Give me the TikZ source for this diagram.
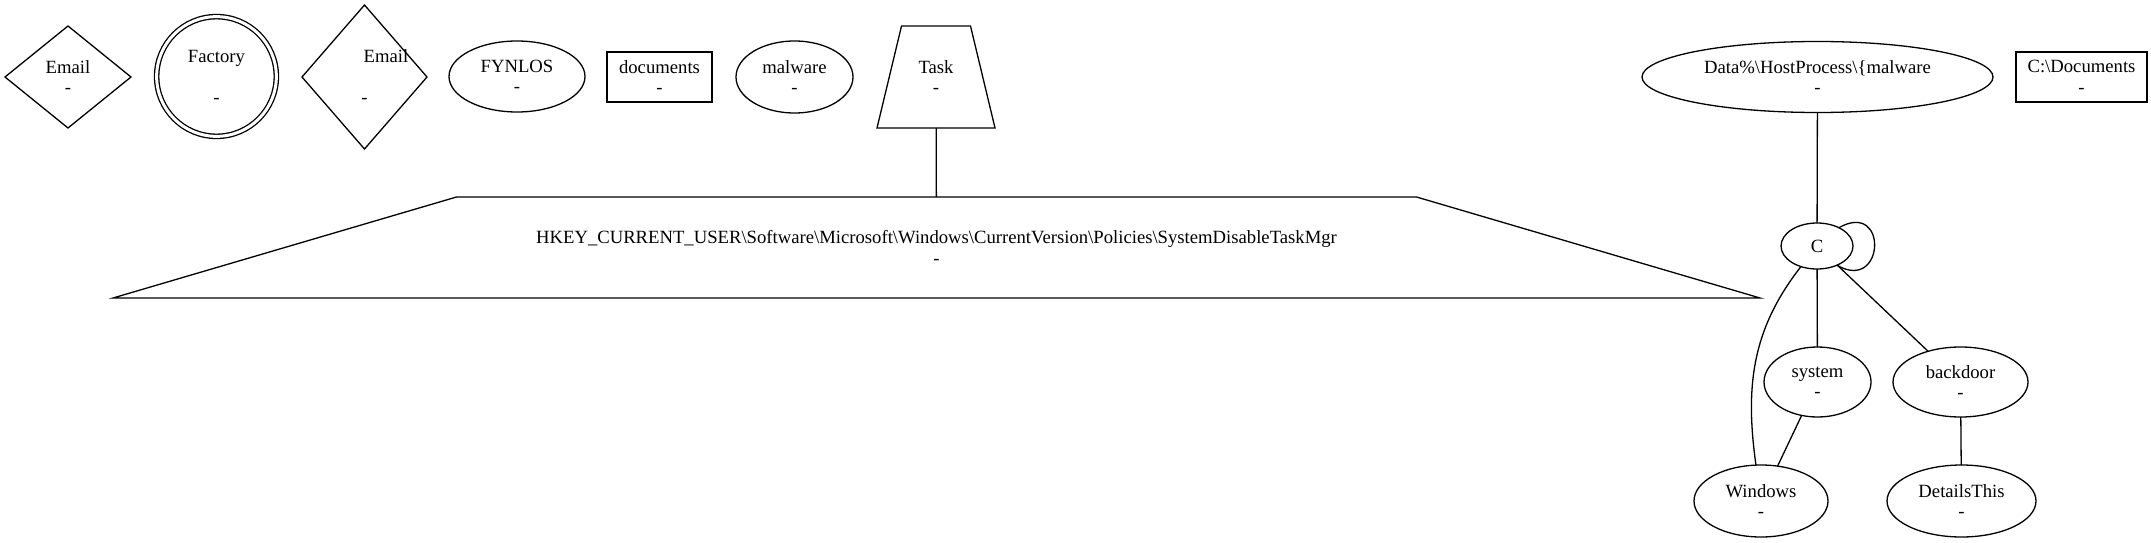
\documentclass[tikz,border=0pt]{standalone}
\usepackage{fontspec}
\setmainfont{Liberation Serif}
\usepackage{tikz}
\usetikzlibrary{shapes.geometric}
\newcommand{\gvfont}{\fontsize{18.67}{20.5}\selectfont}
\newcommand{\bsl}{\textbackslash}

\begin{document}
\begin{tikzpicture}[x=1pt, y=-1pt,
    gnode/.style={draw, line width=1.3pt, inner sep=0pt, outer sep=0pt, align=center, font=\gvfont},
    gtext/.style={inner sep=0pt, outer sep=0pt, align=center, font=\gvfont},
    oval/.style={gnode, ellipse},
    dia/.style={gnode, diamond},
    boxnode/.style={gnode, rectangle},
    link/.style={line width=1.3pt}]
    \useasboundingbox (0,0) rectangle (2151,543);

    % Top row
    \node[dia, minimum width=126pt, minimum height=102pt] (email1) at (68,77) {Email\\-};
    \node[gnode, circle, double, double distance=3pt, minimum size=119.7pt] (factory) at (216.5,76.5) {Factory\\~\\-};
    \node[dia, minimum width=125pt, minimum height=144pt] (email2) at (364.5,77) {};
    \node[gtext] (email2lbl) at (email2.center) {\hspace*{43pt}Email\\~\\-};
    \node[oval, minimum width=136pt, minimum height=71pt] (fynlos) at (517,76.5) {FYNLOS\\-};
    \node[boxnode, minimum width=105pt, minimum height=50pt] (documents) at (659.5,77) {documents\\-};
    \node[oval, minimum width=117pt, minimum height=72pt] (malware) at (794.5,77) {malware\\-};
    \node[gtext, minimum width=118pt, minimum height=102pt] (task) at (936,77) {Task\\-};
    \draw[link] (task.south west) -- ([xshift=24.5pt]task.north west)
        -- ([xshift=-24.5pt]task.north east) -- (task.south east) -- cycle;
    \node[oval, minimum width=351pt, minimum height=71pt] (hostproc) at (1817.5,77)
        {Data\%\bsl HostProcess\bsl\{malware\\-};
    \node[boxnode, minimum width=131pt, minimum height=50pt] (cdocs) at (2081.5,77) {C:\bsl Documents\\-};

    % Registry key
    \node[gtext, minimum width=1647pt, minimum height=101pt] (hkey) at (936.5,247.5)
        {HKEY\_CURRENT\_USER\bsl Software\bsl Microsoft\bsl Windows\bsl CurrentVersion\bsl Policies\bsl SystemDisableTaskMgr\\-};
    \draw[link] (hkey.south west) -- ([xshift=343.5pt]hkey.north west)
        -- ([xshift=-343.5pt]hkey.north east) -- (hkey.south east) -- cycle;

    % Tree under C
    \node[oval, minimum width=72pt, minimum height=46pt] (c) at (1817,246) {C};
    \node[oval, minimum width=107pt, minimum height=70pt] (system) at (1817.5,382) {system\\-};
    \node[oval, minimum width=135pt, minimum height=70pt] (backdoor) at (1960.5,382) {backdoor\\-};
    \node[oval, minimum width=134pt, minimum height=72pt] (windows) at (1761,501) {Windows\\-};
    \node[oval, minimum width=149pt, minimum height=72pt] (details) at (1961.5,501) {DetailsThis\\-};

    % Links
    \draw[link] (task) -- (hkey);
    \draw[link] (hostproc) -- (c);
    \draw[link] (c.40) .. controls +(50,-28) and +(48,28) .. (c.-44);
    \draw[link] (c) -- (system);
    \draw[link] (c) -- (backdoor);
    \draw[link] (c) to[out=-128, in=98] (windows);
    \draw[link] (system) -- (windows);
    \draw[link] (backdoor) -- (details);
\end{tikzpicture}
\end{document}
